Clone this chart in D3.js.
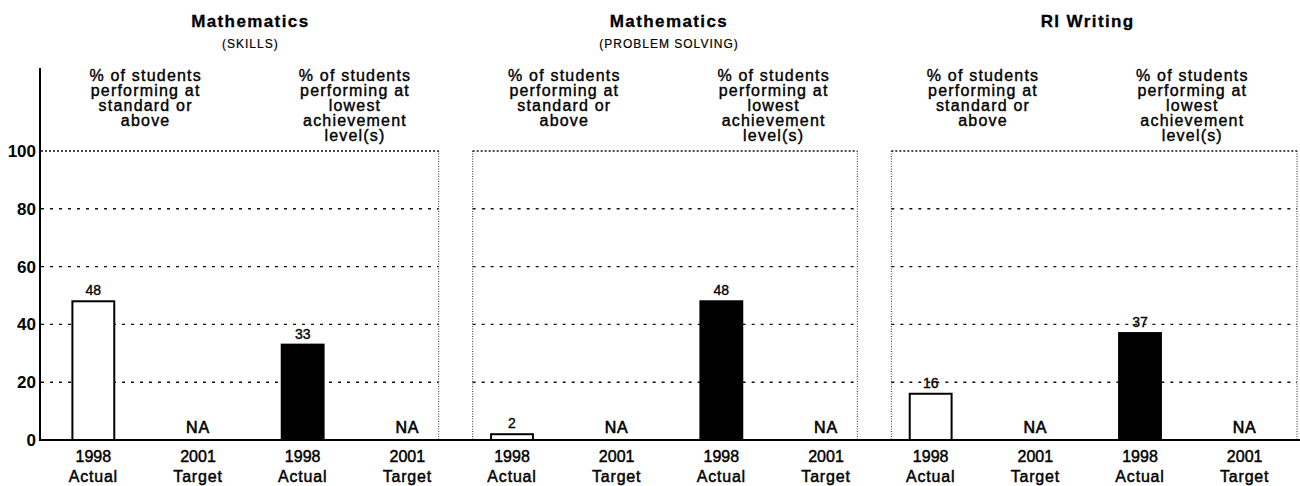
<!DOCTYPE html>
<html>
<head>
<meta charset="utf-8">
<script src="https://cdn.jsdelivr.net/npm/d3@7"></script>
<style>
  html, body { margin: 0; padding: 0; background: #fff; }
  svg { display: block; font-family: "Liberation Sans", Arial, Helvetica, sans-serif; }
</style>
</head>
<body>
<svg id="chart" width="1300" height="486"></svg>
<script>
// ---------- data ----------
const panelTitles = ["Mathematics", "Mathematics", "RI Writing"];
const panelSubtitles = ["(SKILLS)", "(PROBLEM SOLVING)", ""];
const standardLabelLines = ["% of students", "performing at", "standard or", "above"];
const lowestLabelLines = ["% of students", "performing at", "lowest", "achievement", "level(s)"];
const yearLabels = [["1998", "Actual"], ["2001", "Target"]];
const standardActual = [48, 2, 16];
const standardTarget = [null, null, null];   // NA
const lowestActual = [33, 48, 37];
const lowestTarget = [null, null, null];     // NA
const yTicks = [0, 20, 40, 60, 80, 100];

// ---------- build bars ----------
const bars = [];
panelTitles.forEach((t, p) => {
  bars.push({ panel: p, kind: "standard", year: 0, value: standardActual[p] });
  bars.push({ panel: p, kind: "standard", year: 1, value: standardTarget[p] });
  bars.push({ panel: p, kind: "lowest", year: 0, value: lowestActual[p] });
  bars.push({ panel: p, kind: "lowest", year: 1, value: lowestTarget[p] });
});
bars.forEach((b, i) => b.idx = i);

// ---------- layout ----------
const svg = d3.select("#chart");
const left = 41, right = 1297;
const y = d3.scaleLinear().domain([0, 100]).range([440, 151]);
const x = d3.scaleBand().domain(d3.range(bars.length)).range([left, right])
  .paddingInner(0.6).paddingOuter(0.3);
const step = x.step();
const cx = i => x(i) + x.bandwidth() / 2;
const boundary = k => x(k * 4) - x.paddingOuter() * step; // start of panel k category span
const panelLeft = p => p === 0 ? left : boundary(p) + 13;
const panelRight = p => p === panelTitles.length - 1 ? right : boundary(p + 1) - 21;
const panelCenter = p => (boundary(p) + (p === panelTitles.length - 1 ? right : boundary(p + 1))) / 2;

// ---------- gridlines & frames ----------
const grid = svg.append("g");
panelTitles.forEach((t, p) => {
  grid.selectAll(null).data(yTicks.filter(v => v > 0)).join("line")
    .attr("x1", panelLeft(p)).attr("x2", panelRight(p))
    .attr("y1", d => y(d)).attr("y2", d => y(d))
    .attr("stroke", "#111").attr("stroke-width", 1.4)
    .attr("stroke-dasharray", d => d === 100 ? "2,2" : "3,6");
  const vx = [];
  if (p > 0) vx.push(panelLeft(p));
  vx.push(panelRight(p));
  grid.selectAll(null).data(vx).join("line")
    .attr("x1", d => d).attr("x2", d => d)
    .attr("y1", y(100)).attr("y2", y(0))
    .attr("stroke", "#333").attr("stroke-width", 1)
    .attr("stroke-dasharray", "1,1.5");
});

// ---------- bars ----------
const barG = svg.append("g");
barG.selectAll("rect").data(bars.filter(b => b.value != null)).join("rect")
  .attr("x", d => x(d.idx))
  .attr("width", x.bandwidth())
  .attr("y", d => y(d.value))
  .attr("height", d => y(0) - y(d.value))
  .attr("fill", d => d.kind === "standard" ? "#fff" : "#000")
  .attr("stroke", "#000").attr("stroke-width", 2);

// value labels
svg.append("g").selectAll("text").data(bars).join("text")
  .attr("x", d => cx(d.idx))
  .attr("y", d => d.value == null ? y(0) - 7 : y(d.value) - 6)
  .attr("text-anchor", "middle")
  .attr("font-size", d => d.value == null ? 16 : 14)
  .attr("fill", "#000").attr("stroke", "#000")
  .attr("stroke-width", d => d.value == null ? 0.6 : 0.35)
  .attr("letter-spacing", d => d.value == null ? 0.8 : 0)
  .text(d => d.value == null ? "NA" : d.value);

// ---------- axes ----------
const yAxis = svg.append("g").attr("transform", `translate(${left - 1},0)`)
  .call(d3.axisLeft(y).tickValues(yTicks).tickSize(0).tickPadding(4));
yAxis.select(".domain").remove();
yAxis.selectAll("text").attr("font-size", 17).attr("font-weight", "bold")
  .attr("font-family", "Liberation Sans, Arial, sans-serif").attr("fill", "#000");
svg.append("line").attr("x1", left - 1).attr("x2", left - 1).attr("y1", 68).attr("y2", y(0) + 1)
  .attr("stroke", "#000").attr("stroke-width", 2);
svg.append("line").attr("x1", left - 2).attr("x2", 1300).attr("y1", y(0)).attr("y2", y(0))
  .attr("stroke", "#000").attr("stroke-width", 2);

// category labels
const cat = svg.append("g").selectAll("text").data(bars).join("text")
  .attr("text-anchor", "middle").attr("font-size", 16).attr("fill", "#000")
  .attr("stroke", "#000").attr("stroke-width", 0.45);
cat.append("tspan").attr("x", d => cx(d.idx)).attr("y", 462).text(d => yearLabels[d.year][0]);
cat.append("tspan").attr("x", d => cx(d.idx)).attr("y", 482).attr("letter-spacing", 0.8)
  .text(d => yearLabels[d.year][1]);

// ---------- titles ----------
const titles = svg.append("g");
panelTitles.forEach((t, p) => {
  titles.append("text").attr("x", panelCenter(p)).attr("y", 27)
    .attr("text-anchor", "middle").attr("font-size", 17).attr("font-weight", "bold")
    .attr("letter-spacing", 1.4).attr("stroke", "#000").attr("stroke-width", 0.3).text(t);
  if (panelSubtitles[p]) {
    titles.append("text").attr("x", panelCenter(p)).attr("y", 48)
      .attr("text-anchor", "middle").attr("font-size", 12)
      .attr("stroke", "#000").attr("stroke-width", 0.2)
      .attr("letter-spacing", 1).text(panelSubtitles[p]);
  }
  const groups = [standardLabelLines, lowestLabelLines];
  groups.forEach((lines, g) => {
    const gx = (cx(p * 4 + g * 2) + cx(p * 4 + g * 2 + 1)) / 2;
    const tx = titles.append("text").attr("text-anchor", "middle")
      .attr("font-size", 16).attr("letter-spacing", 1.2).attr("fill", "#000")
      .attr("stroke", "#000").attr("stroke-width", 0.4);
    tx.selectAll("tspan").data(lines).join("tspan")
      .attr("x", gx).attr("y", (d, i) => 81 + i * 15).text(d => d);
  });
});
</script>
</body>
</html>
